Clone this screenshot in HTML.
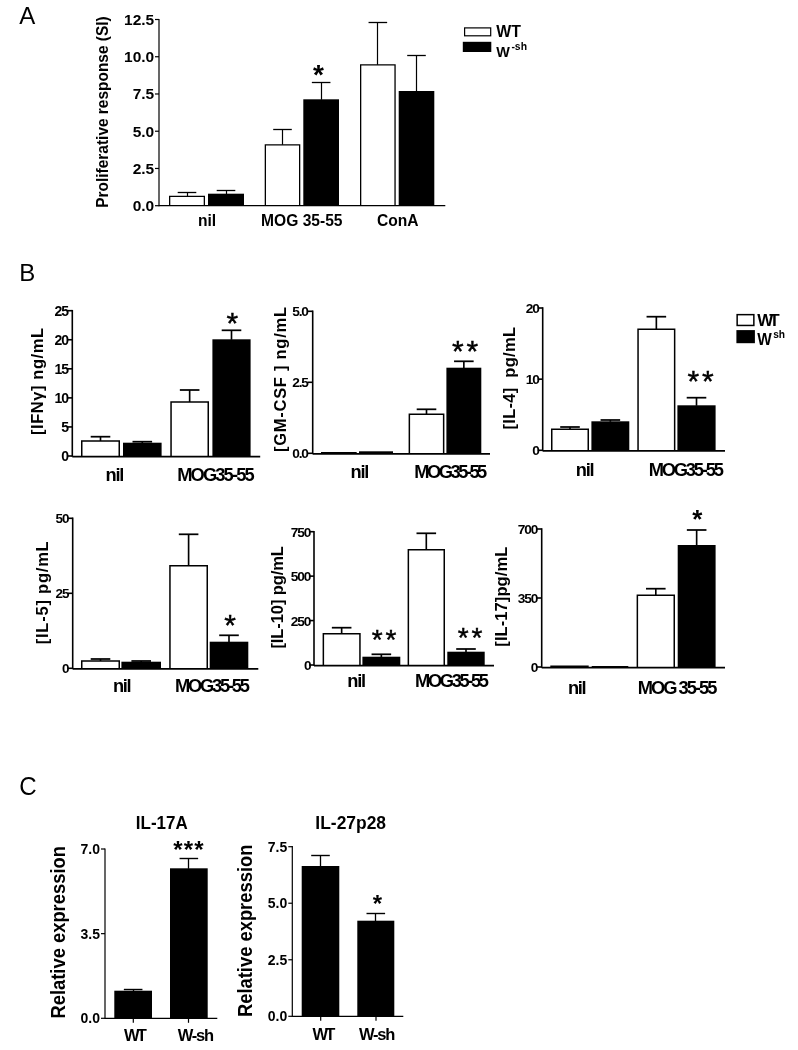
<!DOCTYPE html>
<html lang="en">
<head>
<meta charset="utf-8">
<title>Figure</title>
<style>
html,body{margin:0;padding:0;background:#fff;}
body{width:798px;height:1050px;overflow:hidden;}
svg{display:block;}
svg text{font-family:"Liberation Sans",Arial,Helvetica,sans-serif;font-weight:bold;fill:#000;}
</style>
</head>
<body>
<svg width="798" height="1050" viewBox="0 0 798 1050">
<rect x="0" y="0" width="798" height="1050" fill="#fff"/>
<text x="19.20" y="23.90" font-size="24" style="font-weight:normal">A</text>
<line x1="159.00" y1="18.90" x2="159.00" y2="206.30" stroke="#000" stroke-width="1.2"/>
<line x1="155.00" y1="19.50" x2="159.00" y2="19.50" stroke="#000" stroke-width="1.2"/>
<text x="154.20" y="24.90" font-size="15.5" text-anchor="end">12.5</text>
<line x1="155.00" y1="56.74" x2="159.00" y2="56.74" stroke="#000" stroke-width="1.2"/>
<text x="154.20" y="62.14" font-size="15.5" text-anchor="end">10.0</text>
<line x1="155.00" y1="93.98" x2="159.00" y2="93.98" stroke="#000" stroke-width="1.2"/>
<text x="154.20" y="99.38" font-size="15.5" text-anchor="end">7.5</text>
<line x1="155.00" y1="131.22" x2="159.00" y2="131.22" stroke="#000" stroke-width="1.2"/>
<text x="154.20" y="136.62" font-size="15.5" text-anchor="end">5.0</text>
<line x1="155.00" y1="168.46" x2="159.00" y2="168.46" stroke="#000" stroke-width="1.2"/>
<text x="154.20" y="173.86" font-size="15.5" text-anchor="end">2.5</text>
<line x1="155.00" y1="205.70" x2="159.00" y2="205.70" stroke="#000" stroke-width="1.2"/>
<text x="154.20" y="211.10" font-size="15.5" text-anchor="end">0.0</text>
<line x1="187.50" y1="192.50" x2="187.50" y2="196.20" stroke="#000" stroke-width="1.2"/>
<line x1="177.70" y1="192.50" x2="196.30" y2="192.50" stroke="#000" stroke-width="1.3"/>
<path d="M169.65 205.70V196.35H204.35V205.70" fill="#fff" stroke="#000" stroke-width="1.3"/>
<line x1="226.50" y1="190.50" x2="226.50" y2="194.20" stroke="#000" stroke-width="1.2"/>
<line x1="216.70" y1="190.50" x2="235.30" y2="190.50" stroke="#000" stroke-width="1.3"/>
<rect x="208.00" y="193.70" width="36.00" height="12.00" fill="#000"/>
<line x1="282.50" y1="129.50" x2="282.50" y2="144.80" stroke="#000" stroke-width="1.2"/>
<line x1="273.20" y1="129.50" x2="291.80" y2="129.50" stroke="#000" stroke-width="1.3"/>
<path d="M265.35 205.70V144.95H299.65V205.70" fill="#fff" stroke="#000" stroke-width="1.3"/>
<line x1="321.50" y1="82.50" x2="321.50" y2="99.80" stroke="#000" stroke-width="1.2"/>
<line x1="311.85" y1="82.50" x2="330.45" y2="82.50" stroke="#000" stroke-width="1.3"/>
<rect x="303.30" y="99.30" width="35.70" height="106.40" fill="#000"/>
<line x1="377.50" y1="22.50" x2="377.50" y2="64.80" stroke="#000" stroke-width="1.2"/>
<line x1="368.55" y1="22.50" x2="387.15" y2="22.50" stroke="#000" stroke-width="1.3"/>
<path d="M360.65 205.70V64.95H395.05V205.70" fill="#fff" stroke="#000" stroke-width="1.3"/>
<line x1="416.50" y1="55.50" x2="416.50" y2="91.50" stroke="#000" stroke-width="1.2"/>
<line x1="407.20" y1="55.50" x2="425.80" y2="55.50" stroke="#000" stroke-width="1.3"/>
<rect x="398.70" y="91.00" width="35.60" height="114.70" fill="#000"/>
<line x1="159.00" y1="205.70" x2="445.30" y2="205.70" stroke="#000" stroke-width="1.2"/>
<text x="107.90" y="112.00" font-size="15.6" text-anchor="middle" textLength="191.4" lengthAdjust="spacingAndGlyphs" transform="rotate(-90 107.90 112.00)">Proliferative response (SI)</text>
<text x="207.00" y="225.70" font-size="15.6" text-anchor="middle">nil</text>
<text x="301.80" y="225.70" font-size="15.6" text-anchor="middle">MOG 35-55</text>
<text x="397.70" y="225.70" font-size="15.6" text-anchor="middle">ConA</text>
<text x="318.40" y="84.20" font-size="28" text-anchor="middle">*</text>
<rect x="464.60" y="27.90" width="26.10" height="7.90" fill="#fff" stroke="#000" stroke-width="1.2"/>
<rect x="462.8" y="41.8" width="28.5" height="10.2" fill="#000"/>
<text x="496.30" y="36.70" font-size="16" textLength="24.6" lengthAdjust="spacingAndGlyphs">WT</text>
<text x="496.30" y="57.00" font-size="15.5" textLength="13.6" lengthAdjust="spacingAndGlyphs">W</text>
<text x="511.40" y="50.00" font-size="10" textLength="15.6" lengthAdjust="spacingAndGlyphs">-sh</text>
<text x="19.30" y="280.50" font-size="24" style="font-weight:normal">B</text>
<line x1="72.30" y1="309.90" x2="72.30" y2="456.80" stroke="#000" stroke-width="1.6"/>
<line x1="67.30" y1="310.70" x2="72.30" y2="310.70" stroke="#000" stroke-width="1.6"/>
<text x="67.90" y="315.74" font-size="14" text-anchor="end" letter-spacing="-1.1">25</text>
<line x1="67.30" y1="339.76" x2="72.30" y2="339.76" stroke="#000" stroke-width="1.6"/>
<text x="67.90" y="344.80" font-size="14" text-anchor="end" letter-spacing="-1.1">20</text>
<line x1="67.30" y1="368.82" x2="72.30" y2="368.82" stroke="#000" stroke-width="1.6"/>
<text x="67.90" y="373.86" font-size="14" text-anchor="end" letter-spacing="-1.1">15</text>
<line x1="67.30" y1="397.88" x2="72.30" y2="397.88" stroke="#000" stroke-width="1.6"/>
<text x="67.90" y="402.92" font-size="14" text-anchor="end" letter-spacing="-1.1">10</text>
<line x1="67.30" y1="426.94" x2="72.30" y2="426.94" stroke="#000" stroke-width="1.6"/>
<text x="67.90" y="431.98" font-size="14" text-anchor="end" letter-spacing="-1.1">5</text>
<line x1="67.30" y1="456.00" x2="72.30" y2="456.00" stroke="#000" stroke-width="1.6"/>
<text x="67.90" y="461.04" font-size="14" text-anchor="end" letter-spacing="-1.1">0</text>
<line x1="100.50" y1="436.70" x2="100.50" y2="441.20" stroke="#000" stroke-width="1.65"/>
<line x1="90.70" y1="436.70" x2="110.30" y2="436.70" stroke="#000" stroke-width="1.75"/>
<path d="M81.75 456.00V441.05H119.25V456.00" fill="#fff" stroke="#000" stroke-width="1.5"/>
<line x1="142.30" y1="441.70" x2="142.30" y2="443.20" stroke="#000" stroke-width="1.65"/>
<line x1="132.50" y1="441.70" x2="152.10" y2="441.70" stroke="#000" stroke-width="1.75"/>
<rect x="123.00" y="442.70" width="38.60" height="13.30" fill="#000"/>
<line x1="189.65" y1="390.00" x2="189.65" y2="402.20" stroke="#000" stroke-width="1.65"/>
<line x1="179.85" y1="390.00" x2="199.45" y2="390.00" stroke="#000" stroke-width="1.75"/>
<path d="M171.05 456.00V402.05H208.25V456.00" fill="#fff" stroke="#000" stroke-width="1.5"/>
<line x1="231.50" y1="330.30" x2="231.50" y2="339.80" stroke="#000" stroke-width="1.65"/>
<line x1="221.70" y1="330.30" x2="241.30" y2="330.30" stroke="#000" stroke-width="1.75"/>
<rect x="212.40" y="339.30" width="38.20" height="116.70" fill="#000"/>
<line x1="72.30" y1="456.60" x2="260.20" y2="456.60" stroke="#000" stroke-width="1.6"/>
<text x="42.50" y="381.50" font-size="16.5" text-anchor="middle" textLength="107.0" lengthAdjust="spacing" transform="rotate(-90 42.50 381.50)">[IFN&#947;] ng/mL</text>
<text x="115.00" y="481.10" font-size="18.3" text-anchor="middle" textLength="18.8" lengthAdjust="spacing">nil</text>
<text x="215.90" y="481.10" font-size="18.3" text-anchor="middle" textLength="77.5" lengthAdjust="spacing">MOG35-55</text>
<text x="232.30" y="332.55" font-size="30" text-anchor="middle" style="font-weight:normal" stroke="#000" stroke-width="0.45">*</text>
<line x1="312.70" y1="310.50" x2="312.70" y2="454.10" stroke="#000" stroke-width="1.6"/>
<line x1="307.70" y1="311.30" x2="312.70" y2="311.30" stroke="#000" stroke-width="1.6"/>
<text x="307.90" y="316.23" font-size="13.7" text-anchor="end" letter-spacing="-1.1">5.0</text>
<line x1="307.70" y1="382.30" x2="312.70" y2="382.30" stroke="#000" stroke-width="1.6"/>
<text x="307.90" y="387.23" font-size="13.7" text-anchor="end" letter-spacing="-1.1">2.5</text>
<line x1="307.70" y1="453.30" x2="312.70" y2="453.30" stroke="#000" stroke-width="1.6"/>
<text x="307.90" y="458.23" font-size="13.7" text-anchor="end" letter-spacing="-1.1">0.0</text>
<path d="M321.75 453.30V452.65H355.95V453.30" fill="#fff" stroke="#000" stroke-width="1.5"/>
<rect x="359.00" y="451.30" width="34.00" height="2.00" fill="#000"/>
<line x1="426.50" y1="409.30" x2="426.50" y2="414.50" stroke="#000" stroke-width="1.65"/>
<line x1="416.70" y1="409.30" x2="436.30" y2="409.30" stroke="#000" stroke-width="1.75"/>
<path d="M409.35 453.30V414.35H443.65V453.30" fill="#fff" stroke="#000" stroke-width="1.5"/>
<line x1="463.85" y1="361.30" x2="463.85" y2="368.20" stroke="#000" stroke-width="1.65"/>
<line x1="454.05" y1="361.30" x2="473.65" y2="361.30" stroke="#000" stroke-width="1.75"/>
<rect x="446.40" y="367.70" width="34.90" height="85.60" fill="#000"/>
<line x1="312.70" y1="453.90" x2="490.00" y2="453.90" stroke="#000" stroke-width="1.6"/>
<text x="286.20" y="379.50" font-size="16.5" text-anchor="middle" textLength="145.0" lengthAdjust="spacing" transform="rotate(-90 286.20 379.50)">[GM-CSF ] ng/mL</text>
<text x="360.00" y="478.30" font-size="18.3" text-anchor="middle" textLength="18.8" lengthAdjust="spacing">nil</text>
<text x="450.80" y="478.30" font-size="18.3" text-anchor="middle" textLength="72.9" lengthAdjust="spacing">MOG35-55</text>
<text x="457.75" y="360.95" font-size="30" text-anchor="middle" style="font-weight:normal" stroke="#000" stroke-width="0.45">*</text>
<text x="472.25" y="360.95" font-size="30" text-anchor="middle" style="font-weight:normal" stroke="#000" stroke-width="0.45">*</text>
<line x1="542.70" y1="307.20" x2="542.70" y2="451.10" stroke="#000" stroke-width="1.6"/>
<line x1="537.70" y1="308.00" x2="542.70" y2="308.00" stroke="#000" stroke-width="1.6"/>
<text x="538.70" y="312.93" font-size="13.7" text-anchor="end" letter-spacing="-1.1">20</text>
<line x1="537.70" y1="379.15" x2="542.70" y2="379.15" stroke="#000" stroke-width="1.6"/>
<text x="538.70" y="384.08" font-size="13.7" text-anchor="end" letter-spacing="-1.1">10</text>
<line x1="537.70" y1="450.30" x2="542.70" y2="450.30" stroke="#000" stroke-width="1.6"/>
<text x="538.70" y="455.23" font-size="13.7" text-anchor="end" letter-spacing="-1.1">0</text>
<line x1="570.00" y1="427.00" x2="570.00" y2="429.50" stroke="#000" stroke-width="1.65"/>
<line x1="560.20" y1="427.00" x2="579.80" y2="427.00" stroke="#000" stroke-width="1.75"/>
<path d="M551.75 450.30V429.35H588.25V450.30" fill="#fff" stroke="#000" stroke-width="1.5"/>
<line x1="610.35" y1="420.00" x2="610.35" y2="421.80" stroke="#000" stroke-width="1.65"/>
<line x1="600.55" y1="420.00" x2="620.15" y2="420.00" stroke="#000" stroke-width="1.75"/>
<rect x="591.40" y="421.30" width="37.90" height="29.00" fill="#000"/>
<line x1="656.35" y1="316.70" x2="656.35" y2="329.50" stroke="#000" stroke-width="1.65"/>
<line x1="646.55" y1="316.70" x2="666.15" y2="316.70" stroke="#000" stroke-width="1.75"/>
<path d="M638.05 450.30V329.35H674.65V450.30" fill="#fff" stroke="#000" stroke-width="1.5"/>
<line x1="696.50" y1="397.70" x2="696.50" y2="405.80" stroke="#000" stroke-width="1.65"/>
<line x1="686.70" y1="397.70" x2="706.30" y2="397.70" stroke="#000" stroke-width="1.75"/>
<rect x="677.40" y="405.30" width="38.20" height="45.00" fill="#000"/>
<line x1="542.70" y1="450.90" x2="725.00" y2="450.90" stroke="#000" stroke-width="1.6"/>
<text x="515.00" y="378.20" font-size="16.5" text-anchor="middle" textLength="102.5" lengthAdjust="spacing" transform="rotate(-90 515.00 378.20)">[IL-4]&#160; pg/mL</text>
<text x="585.20" y="475.60" font-size="18.3" text-anchor="middle" textLength="18.8" lengthAdjust="spacing">nil</text>
<text x="686.30" y="475.60" font-size="18.3" text-anchor="middle" textLength="75.2" lengthAdjust="spacing">MOG35-55</text>
<text x="693.25" y="390.55" font-size="30" text-anchor="middle" style="font-weight:normal" stroke="#000" stroke-width="0.45">*</text>
<text x="707.75" y="390.55" font-size="30" text-anchor="middle" style="font-weight:normal" stroke="#000" stroke-width="0.45">*</text>
<rect x="737.15" y="314.65" width="16.70" height="10.80" fill="#fff" stroke="#000" stroke-width="1.5"/>
<rect x="736.4" y="330.1" width="18.5" height="13.1" fill="#000"/>
<text x="757.30" y="325.60" font-size="17" textLength="22.3" lengthAdjust="spacing">WT</text>
<text x="757.30" y="344.50" font-size="17" textLength="14.5" lengthAdjust="spacingAndGlyphs">W</text>
<text x="773.20" y="337.70" font-size="11.5" textLength="11.9" lengthAdjust="spacingAndGlyphs">sh</text>
<line x1="72.70" y1="517.50" x2="72.70" y2="669.10" stroke="#000" stroke-width="1.6"/>
<line x1="67.70" y1="518.30" x2="72.70" y2="518.30" stroke="#000" stroke-width="1.6"/>
<text x="68.40" y="523.16" font-size="13.5" text-anchor="end" letter-spacing="-1.1">50</text>
<line x1="67.70" y1="593.30" x2="72.70" y2="593.30" stroke="#000" stroke-width="1.6"/>
<text x="68.40" y="598.16" font-size="13.5" text-anchor="end" letter-spacing="-1.1">25</text>
<line x1="67.70" y1="668.30" x2="72.70" y2="668.30" stroke="#000" stroke-width="1.6"/>
<text x="68.40" y="673.16" font-size="13.5" text-anchor="end" letter-spacing="-1.1">0</text>
<line x1="100.50" y1="659.00" x2="100.50" y2="661.20" stroke="#000" stroke-width="1.65"/>
<line x1="90.70" y1="659.00" x2="110.30" y2="659.00" stroke="#000" stroke-width="1.75"/>
<path d="M81.75 668.30V661.05H119.25V668.30" fill="#fff" stroke="#000" stroke-width="1.5"/>
<line x1="141.20" y1="661.00" x2="141.20" y2="662.20" stroke="#000" stroke-width="1.65"/>
<line x1="131.40" y1="661.00" x2="151.00" y2="661.00" stroke="#000" stroke-width="1.75"/>
<rect x="121.40" y="661.70" width="39.60" height="6.60" fill="#000"/>
<line x1="188.60" y1="534.30" x2="188.60" y2="565.80" stroke="#000" stroke-width="1.65"/>
<line x1="178.80" y1="534.30" x2="198.40" y2="534.30" stroke="#000" stroke-width="1.75"/>
<path d="M169.95 668.30V565.65H207.25V668.30" fill="#fff" stroke="#000" stroke-width="1.5"/>
<line x1="229.00" y1="635.30" x2="229.00" y2="642.20" stroke="#000" stroke-width="1.65"/>
<line x1="219.20" y1="635.30" x2="238.80" y2="635.30" stroke="#000" stroke-width="1.75"/>
<rect x="209.70" y="641.70" width="38.60" height="26.60" fill="#000"/>
<line x1="72.70" y1="668.90" x2="258.30" y2="668.90" stroke="#000" stroke-width="1.6"/>
<text x="48.20" y="592.80" font-size="16.5" text-anchor="middle" textLength="103.0" lengthAdjust="spacing" transform="rotate(-90 48.20 592.80)">[IL-5] pg/mL</text>
<text x="122.30" y="692.30" font-size="18.3" text-anchor="middle" textLength="18.8" lengthAdjust="spacing">nil</text>
<text x="212.50" y="692.30" font-size="18.3" text-anchor="middle" textLength="74.8" lengthAdjust="spacing">MOG35-55</text>
<text x="230.00" y="634.95" font-size="30" text-anchor="middle" style="font-weight:normal" stroke="#000" stroke-width="0.45">*</text>
<line x1="314.00" y1="530.90" x2="314.00" y2="665.80" stroke="#000" stroke-width="1.6"/>
<line x1="309.00" y1="531.70" x2="314.00" y2="531.70" stroke="#000" stroke-width="1.6"/>
<text x="310.40" y="536.63" font-size="13.7" text-anchor="end" letter-spacing="-1.1">750</text>
<line x1="309.00" y1="576.13" x2="314.00" y2="576.13" stroke="#000" stroke-width="1.6"/>
<text x="310.40" y="581.07" font-size="13.7" text-anchor="end" letter-spacing="-1.1">500</text>
<line x1="309.00" y1="620.57" x2="314.00" y2="620.57" stroke="#000" stroke-width="1.6"/>
<text x="310.40" y="625.50" font-size="13.7" text-anchor="end" letter-spacing="-1.1">250</text>
<line x1="309.00" y1="665.00" x2="314.00" y2="665.00" stroke="#000" stroke-width="1.6"/>
<text x="310.40" y="669.93" font-size="13.7" text-anchor="end" letter-spacing="-1.1">0</text>
<line x1="341.65" y1="627.70" x2="341.65" y2="633.80" stroke="#000" stroke-width="1.65"/>
<line x1="331.85" y1="627.70" x2="351.45" y2="627.70" stroke="#000" stroke-width="1.75"/>
<path d="M323.35 665.00V633.65H359.95V665.00" fill="#fff" stroke="#000" stroke-width="1.5"/>
<line x1="381.35" y1="654.30" x2="381.35" y2="657.20" stroke="#000" stroke-width="1.65"/>
<line x1="371.55" y1="654.30" x2="391.15" y2="654.30" stroke="#000" stroke-width="1.75"/>
<rect x="362.40" y="656.70" width="37.90" height="8.30" fill="#000"/>
<line x1="426.30" y1="533.30" x2="426.30" y2="549.80" stroke="#000" stroke-width="1.65"/>
<line x1="416.50" y1="533.30" x2="436.10" y2="533.30" stroke="#000" stroke-width="1.75"/>
<path d="M408.35 665.00V549.65H444.25V665.00" fill="#fff" stroke="#000" stroke-width="1.5"/>
<line x1="466.00" y1="649.00" x2="466.00" y2="652.20" stroke="#000" stroke-width="1.65"/>
<line x1="456.20" y1="649.00" x2="475.80" y2="649.00" stroke="#000" stroke-width="1.75"/>
<rect x="447.30" y="651.70" width="37.40" height="13.30" fill="#000"/>
<line x1="314.00" y1="665.60" x2="494.00" y2="665.60" stroke="#000" stroke-width="1.6"/>
<text x="283.50" y="597.30" font-size="16.5" text-anchor="middle" textLength="102.5" lengthAdjust="spacing" transform="rotate(-90 283.50 597.30)">[IL-10] pg/mL</text>
<text x="356.70" y="686.60" font-size="18.3" text-anchor="middle" textLength="18.8" lengthAdjust="spacing">nil</text>
<text x="452.00" y="686.60" font-size="18.3" text-anchor="middle" textLength="73.8" lengthAdjust="spacing">MOG35-55</text>
<text x="377.10" y="649.20" font-size="28" text-anchor="middle" style="font-weight:normal" stroke="#000" stroke-width="0.45">*</text>
<text x="390.90" y="649.20" font-size="28" text-anchor="middle" style="font-weight:normal" stroke="#000" stroke-width="0.45">*</text>
<text x="463.10" y="646.50" font-size="28" text-anchor="middle" style="font-weight:normal" stroke="#000" stroke-width="0.45">*</text>
<text x="476.90" y="646.50" font-size="28" text-anchor="middle" style="font-weight:normal" stroke="#000" stroke-width="0.45">*</text>
<line x1="541.70" y1="528.20" x2="541.70" y2="667.80" stroke="#000" stroke-width="1.6"/>
<line x1="536.70" y1="529.00" x2="541.70" y2="529.00" stroke="#000" stroke-width="1.6"/>
<text x="537.20" y="533.93" font-size="13.7" text-anchor="end" letter-spacing="-1.1">700</text>
<line x1="536.70" y1="598.00" x2="541.70" y2="598.00" stroke="#000" stroke-width="1.6"/>
<text x="537.20" y="602.93" font-size="13.7" text-anchor="end" letter-spacing="-1.1">350</text>
<line x1="536.70" y1="667.00" x2="541.70" y2="667.00" stroke="#000" stroke-width="1.6"/>
<text x="537.20" y="671.93" font-size="13.7" text-anchor="end" letter-spacing="-1.1">0</text>
<path d="M551.05 667.00V666.35H587.95V667.00" fill="#fff" stroke="#000" stroke-width="1.5"/>
<rect x="591.70" y="666.00" width="36.60" height="1.00" fill="#000"/>
<line x1="655.80" y1="588.70" x2="655.80" y2="595.50" stroke="#000" stroke-width="1.65"/>
<line x1="646.00" y1="588.70" x2="665.60" y2="588.70" stroke="#000" stroke-width="1.75"/>
<path d="M637.35 667.00V595.35H674.25V667.00" fill="#fff" stroke="#000" stroke-width="1.5"/>
<line x1="696.65" y1="530.00" x2="696.65" y2="545.50" stroke="#000" stroke-width="1.65"/>
<line x1="686.85" y1="530.00" x2="706.45" y2="530.00" stroke="#000" stroke-width="1.75"/>
<rect x="677.70" y="545.00" width="37.90" height="122.00" fill="#000"/>
<line x1="541.70" y1="667.60" x2="725.00" y2="667.60" stroke="#000" stroke-width="1.6"/>
<text x="507.00" y="596.70" font-size="16.5" text-anchor="middle" textLength="100.0" lengthAdjust="spacing" transform="rotate(-90 507.00 596.70)">[IL-17]pg/mL</text>
<text x="577.30" y="693.90" font-size="18.3" text-anchor="middle" textLength="18.8" lengthAdjust="spacing">nil</text>
<text x="677.50" y="693.90" font-size="18.3" text-anchor="middle" textLength="79.6" lengthAdjust="spacing">MOG 35-55</text>
<text x="697.30" y="528.25" font-size="26" text-anchor="middle">*</text>
<text x="19.30" y="795.00" font-size="26" style="font-weight:normal" textLength="17.4" lengthAdjust="spacingAndGlyphs">C</text>
<line x1="105.00" y1="848.40" x2="105.00" y2="1018.90" stroke="#000" stroke-width="1.2"/>
<line x1="101.00" y1="849.00" x2="105.00" y2="849.00" stroke="#000" stroke-width="1.2"/>
<text x="100.00" y="854.04" font-size="14" text-anchor="end">7.0</text>
<line x1="101.00" y1="933.65" x2="105.00" y2="933.65" stroke="#000" stroke-width="1.2"/>
<text x="100.00" y="938.69" font-size="14" text-anchor="end">3.5</text>
<line x1="101.00" y1="1018.30" x2="105.00" y2="1018.30" stroke="#000" stroke-width="1.2"/>
<text x="100.00" y="1023.34" font-size="14" text-anchor="end">0.0</text>
<line x1="133.50" y1="989.50" x2="133.50" y2="991.20" stroke="#000" stroke-width="1.3"/>
<line x1="123.85" y1="989.50" x2="142.45" y2="989.50" stroke="#000" stroke-width="1.4000000000000001"/>
<rect x="114.30" y="990.70" width="37.70" height="27.60" fill="#000"/>
<line x1="188.50" y1="858.50" x2="188.50" y2="868.80" stroke="#000" stroke-width="1.3"/>
<line x1="179.55" y1="858.50" x2="198.15" y2="858.50" stroke="#000" stroke-width="1.4000000000000001"/>
<rect x="170.00" y="868.30" width="37.70" height="150.00" fill="#000"/>
<line x1="105.00" y1="1018.30" x2="217.30" y2="1018.30" stroke="#000" stroke-width="1.2"/>
<line x1="133.30" y1="1018.30" x2="133.30" y2="1022.80" stroke="#000" stroke-width="1.2"/>
<line x1="188.50" y1="1018.30" x2="188.50" y2="1022.80" stroke="#000" stroke-width="1.2"/>
<text x="65.50" y="932.30" font-size="19.3" text-anchor="middle" textLength="172.5" lengthAdjust="spacingAndGlyphs" transform="rotate(-90 65.50 932.30)">Relative expression</text>
<text x="161.80" y="828.70" font-size="17.5" text-anchor="middle" textLength="51.9" lengthAdjust="spacingAndGlyphs">IL-17A</text>
<text x="135.50" y="1040.50" font-size="16.5" text-anchor="middle" textLength="22.8" lengthAdjust="spacing">WT</text>
<text x="195.90" y="1040.50" font-size="16.5" text-anchor="middle" textLength="36.2" lengthAdjust="spacing">W-sh</text>
<text x="177.80" y="857.60" font-size="24" text-anchor="middle">*</text>
<text x="188.30" y="857.60" font-size="24" text-anchor="middle">*</text>
<text x="198.80" y="857.60" font-size="24" text-anchor="middle">*</text>
<line x1="292.30" y1="846.10" x2="292.30" y2="1016.90" stroke="#000" stroke-width="1.2"/>
<line x1="288.30" y1="846.70" x2="292.30" y2="846.70" stroke="#000" stroke-width="1.2"/>
<text x="287.30" y="851.74" font-size="14" text-anchor="end">7.5</text>
<line x1="288.30" y1="903.23" x2="292.30" y2="903.23" stroke="#000" stroke-width="1.2"/>
<text x="287.30" y="908.27" font-size="14" text-anchor="end">5.0</text>
<line x1="288.30" y1="959.77" x2="292.30" y2="959.77" stroke="#000" stroke-width="1.2"/>
<text x="287.30" y="964.81" font-size="14" text-anchor="end">2.5</text>
<line x1="288.30" y1="1016.30" x2="292.30" y2="1016.30" stroke="#000" stroke-width="1.2"/>
<text x="287.30" y="1021.34" font-size="14" text-anchor="end">0.0</text>
<line x1="320.50" y1="855.50" x2="320.50" y2="866.50" stroke="#000" stroke-width="1.3"/>
<line x1="311.20" y1="855.50" x2="329.80" y2="855.50" stroke="#000" stroke-width="1.4000000000000001"/>
<rect x="301.70" y="866.00" width="37.60" height="150.30" fill="#000"/>
<line x1="375.50" y1="913.50" x2="375.50" y2="921.20" stroke="#000" stroke-width="1.3"/>
<line x1="366.50" y1="913.50" x2="385.10" y2="913.50" stroke="#000" stroke-width="1.4000000000000001"/>
<rect x="357.30" y="920.70" width="37.00" height="95.60" fill="#000"/>
<line x1="292.30" y1="1016.30" x2="403.30" y2="1016.30" stroke="#000" stroke-width="1.2"/>
<line x1="320.70" y1="1016.30" x2="320.70" y2="1020.80" stroke="#000" stroke-width="1.2"/>
<line x1="376.00" y1="1016.30" x2="376.00" y2="1020.80" stroke="#000" stroke-width="1.2"/>
<text x="252.20" y="930.80" font-size="20.3" text-anchor="middle" textLength="172.5" lengthAdjust="spacingAndGlyphs" transform="rotate(-90 252.20 930.80)">Relative expression</text>
<text x="350.70" y="828.70" font-size="17.5" text-anchor="middle" textLength="70.7" lengthAdjust="spacingAndGlyphs">IL-27p28</text>
<text x="324.00" y="1039.80" font-size="16.5" text-anchor="middle" textLength="22.8" lengthAdjust="spacing">WT</text>
<text x="377.20" y="1039.80" font-size="16.5" text-anchor="middle" textLength="36.2" lengthAdjust="spacing">W-sh</text>
<text x="377.30" y="912.10" font-size="24" text-anchor="middle">*</text>
</svg>
</body>
</html>
